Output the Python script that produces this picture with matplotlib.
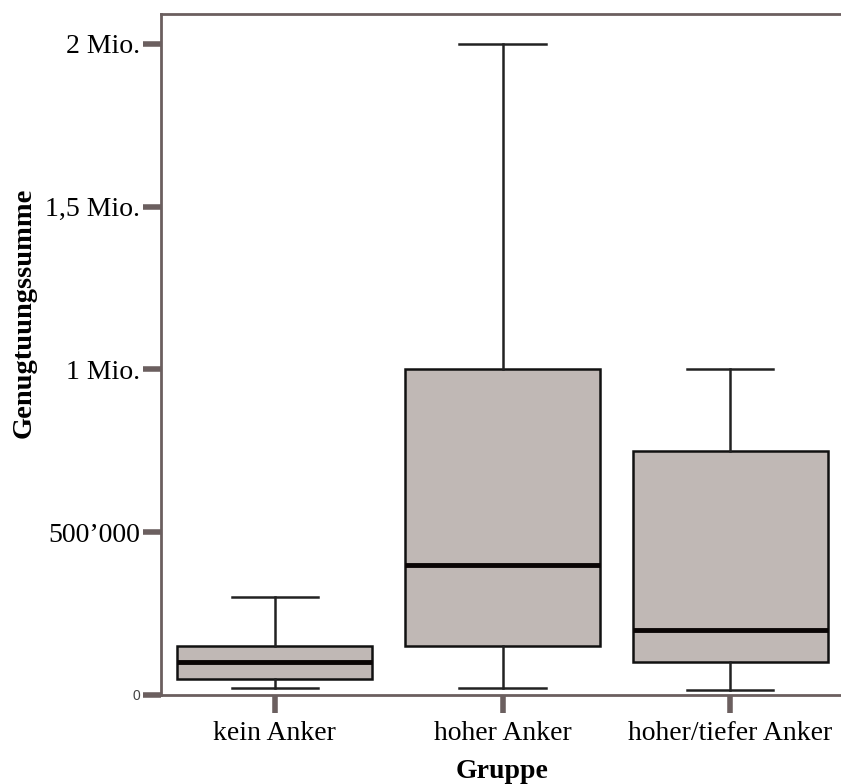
import matplotlib
matplotlib.use("Agg")
import matplotlib.pyplot as plt

groups = ["kein Anker", "hoher Anker", "hoher/tiefer Anker"]
whislo = [20000, 20000, 15000]
q1 = [50000, 150000, 100000]
med = [100000, 400000, 200000]
q3 = [150000, 1000000, 750000]
whishi = [300000, 2000000, 1000000]
ytick_vals = [0, 500000, 1000000, 1500000, 2000000]
ytick_labels = ["0", "500’000", "1 Mio.", "1,5 Mio.", "2 Mio."]

spine_c = "#6b5f5f"
fig = plt.figure(figsize=(8.41, 7.84), dpi=100)
ax = fig.add_axes([161/841, 89/784, 683/841, 681/784])

stats = []
for g, a, b, c, d, e in zip(groups, whislo, q1, med, q3, whishi):
    stats.append(dict(label=g, whislo=a, q1=b, med=c, q3=d, whishi=e, fliers=[]))

ax.bxp(stats, positions=[1, 2, 3], widths=0.857, patch_artist=True, showfliers=False,
       boxprops=dict(facecolor="#c0b8b5", edgecolor="#111111", linewidth=1.8),
       medianprops=dict(color="#0a0505", linewidth=3.5),
       whiskerprops=dict(color="#222222", linewidth=1.8),
       capprops=dict(color="#222222", linewidth=1.8),
       capwidths=0.38)

ax.set_xlim(0.5, 3.5)
ax.set_ylim(0, 2092000)
ax.set_yticks(ytick_vals)
ax.set_yticklabels(ytick_labels, family="Liberation Serif", fontsize=20)
for lab in ax.get_yticklabels():
    if lab.get_text() == "0":
        lab.set_family("Liberation Sans")
        lab.set_fontsize(10)
        lab.set_color("#444444")
ax.set_xticks([1, 2, 3])
ax.set_xticklabels(groups, family="Liberation Serif", fontsize=20)

ax.spines["right"].set_visible(False)
for s in ["left", "top", "bottom"]:
    ax.spines[s].set_color(spine_c)
    ax.spines[s].set_linewidth(2)
ax.tick_params(axis="both", direction="out", length=13, width=4, color=spine_c)
ax.tick_params(axis="y", pad=2)
ax.tick_params(axis="x", pad=6)

fig.text(24/841, 1 - 313/784, "Genugtuungssumme", family="Liberation Serif", fontsize=20.5,
         fontweight="bold", rotation=90, ha="center", va="center")
ax.set_xlabel("Gruppe", family="Liberation Serif", fontsize=20, fontweight="bold", labelpad=9)

fig.savefig("out.png", dpi=100)
